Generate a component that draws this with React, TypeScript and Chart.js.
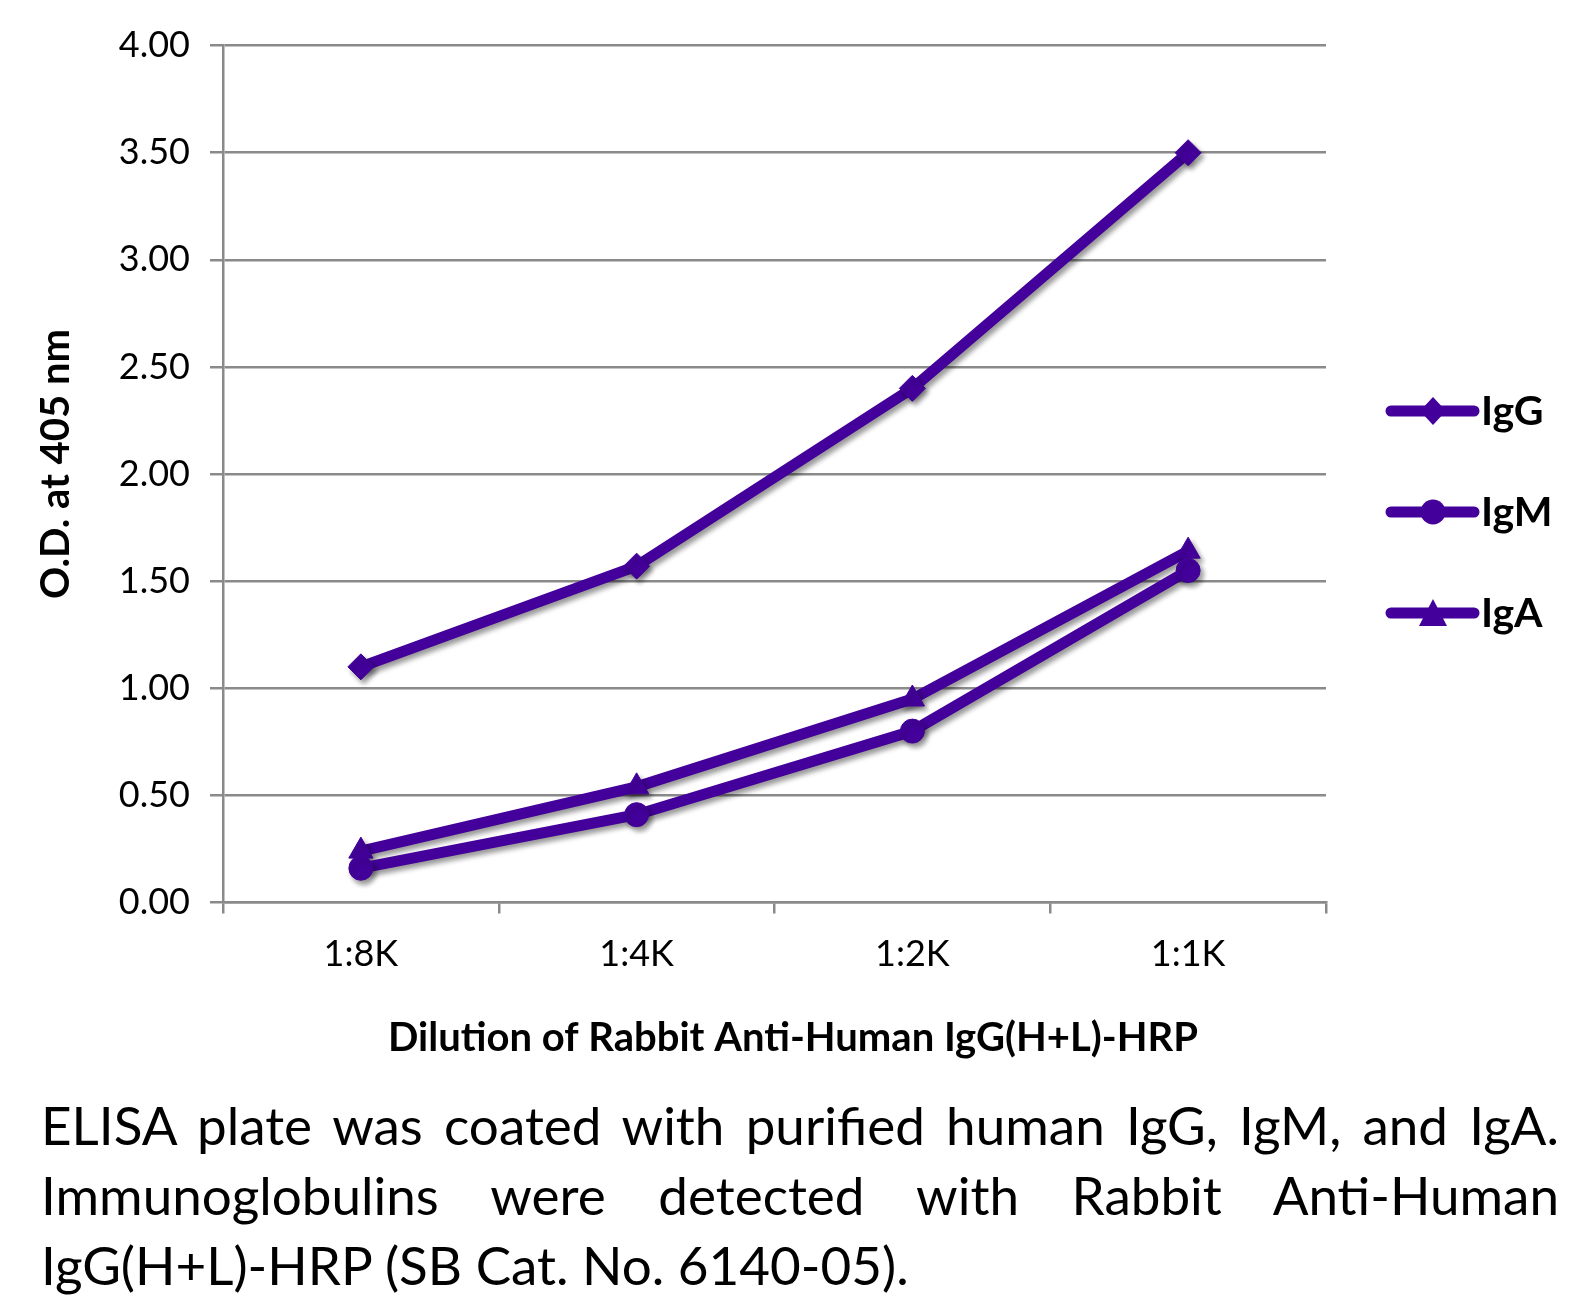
import React, { useEffect, useRef } from "react";
import { Chart, registerables } from "chart.js";

Chart.register(...registerables);

const categories = ["1:8K", "1:4K", "1:2K", "1:1K"];
const seriesNames = ["IgG", "IgM", "IgA"];
const igG = [1.1, 1.57, 2.4, 3.5];
const igM = [0.16, 0.41, 0.8, 1.55];
const igA = [0.24, 0.54, 0.95, 1.64];
const yTickMin = 0;
const yTickMax = 4;
const yTickStep = 0.5;
const yTitle = "O.D. at 405 nm";
const xTitle = "Dilution of Rabbit Anti-Human IgG(H+L)-HRP";
const captionLines = [
  "ELISA plate was coated with purified human IgG, IgM, and IgA.",
  "Immunoglobulins were detected with Rabbit Anti-Human",
  "IgG(H+L)-HRP (SB Cat. No. 6140-05).",
];

const COLOR = "#43009a";
const GRID = "#8a8a8a";
const FONT = "Lato";

const shadowPlugin = {
  id: "lineShadow",
  beforeDatasetsDraw(chart: any) {
    const ctx = chart.ctx;
    ctx.save();
    ctx.shadowColor = "rgba(0,0,0,0.4)";
    ctx.shadowBlur = 5;
    ctx.shadowOffsetX = 3;
    ctx.shadowOffsetY = 4;
  },
  afterDatasetsDraw(chart: any) {
    chart.ctx.restore();
  },
};

const titlesPlugin = {
  id: "axisTitles",
  afterDraw(chart: any) {
    const ctx = chart.ctx;
    ctx.save();
    ctx.fillStyle = "#000";
    ctx.font = `bold 40px ${FONT}`;
    ctx.textAlign = "center";
    ctx.textBaseline = "middle";
    ctx.fillText(xTitle, 793, 1038);
    ctx.translate(56, 464);
    ctx.rotate(-Math.PI / 2);
    ctx.fillText(yTitle, 0, 0);
    ctx.restore();
  },
};

const legendPlugin = {
  id: "sideLegend",
  afterDraw(chart: any) {
    const ctx = chart.ctx;
    const rows = [411, 512, 613];
    const x0 = 1391;
    const x1 = 1474;
    const mx = 1433;
    ctx.save();
    seriesNames.forEach((name, i) => {
      const y = rows[i];
      ctx.strokeStyle = COLOR;
      ctx.fillStyle = COLOR;
      ctx.lineWidth = 11;
      ctx.lineCap = "round";
      ctx.beginPath();
      ctx.moveTo(x0, y);
      ctx.lineTo(x1, y);
      ctx.stroke();
      ctx.beginPath();
      if (i === 0) {
        ctx.moveTo(mx, y - 14);
        ctx.lineTo(mx + 13, y);
        ctx.lineTo(mx, y + 14);
        ctx.lineTo(mx - 13, y);
        ctx.closePath();
      } else if (i === 1) {
        ctx.arc(mx, y, 12.5, 0, Math.PI * 2);
      } else {
        ctx.moveTo(mx, y - 14);
        ctx.lineTo(mx + 14, y + 13);
        ctx.lineTo(mx - 14, y + 13);
        ctx.closePath();
      }
      ctx.fill();
      ctx.fillStyle = "#000";
      ctx.font = `bold 41px ${FONT}`;
      ctx.textAlign = "left";
      ctx.textBaseline = "alphabetic";
      ctx.fillText(name, 1481, y + 14);
    });
    ctx.restore();
  },
};

export default function App() {
  const ref = useRef<HTMLCanvasElement | null>(null);

  useEffect(() => {
    if (!ref.current) return;
    const mk = (label: string, data: number[], style: any, radius: number) => ({
      label,
      data,
      borderColor: COLOR,
      backgroundColor: COLOR,
      borderWidth: 11,
      pointStyle: style,
      pointRadius: radius,
      pointBorderWidth: 1,
      pointBackgroundColor: COLOR,
      pointBorderColor: COLOR,
      tension: 0,
      fill: false,
    });
    const chart = new Chart(ref.current, {
      type: "line",
      data: {
        labels: categories,
        datasets: [
          mk(seriesNames[0], igG, "rectRot", 13),
          mk(seriesNames[1], igM, "circle", 12),
          mk(seriesNames[2], igA, "triangle", 14),
        ],
      },
      options: {
        responsive: false,
        animation: false,
        devicePixelRatio: 1,
        layout: { padding: { top: 45.6, right: 264, bottom: 0, left: 0 } },
        plugins: {
          legend: { display: false },
          tooltip: { enabled: false },
        },
        scales: {
          x: {
            type: "category",
            offset: true,
            grid: {
              offset: true,
              drawOnChartArea: false,
              color: GRID,
              lineWidth: 2.5,
              tickLength: 11,
            },
            border: { display: true, color: GRID, width: 2.5 },
            ticks: {
              color: "#000",
              font: { family: FONT, size: 36 },
              padding: 19,
              maxRotation: 0,
            },
            title: { display: false },
            afterFit(scale: any) {
              scale.height = 167.5;
            },
          },
          y: {
            min: yTickMin,
            max: yTickMax,
            grid: {
              color: GRID,
              lineWidth: 2.5,
              tickLength: 13,
            },
            border: { display: true, color: GRID, width: 2.5 },
            ticks: {
              stepSize: yTickStep,
              color: "#000",
              font: { family: FONT, size: 36 },
              padding: 20,
              callback: (v: any) => Number(v).toFixed(2),
            },
            title: { display: false },
            afterFit(scale: any) {
              scale.width = 223;
            },
          },
        },
      },
      plugins: [shadowPlugin, titlesPlugin, legendPlugin],
    } as any);
    return () => chart.destroy();
  }, []);

  const lineStyle = (justify: boolean): React.CSSProperties => ({
    whiteSpace: "nowrap",
    textAlign: justify ? "justify" : "left",
    textAlignLast: justify ? "justify" : "left",
    height: 70,
  });

  return (
    <div style={{ position: "absolute", left: 0, top: 0, width: 1590, height: 1306, background: "#fff" }}>
      <canvas ref={ref} width={1590} height={1070} style={{ position: "absolute", left: 0, top: 0, width: 1590, height: 1070 }} />
      <div
        style={{
          position: "absolute",
          left: 41,
          top: 1090,
          width: 1518,
          fontFamily: FONT,
          fontSize: 53,
          lineHeight: "70px",
          color: "#000",
        }}
      >
        {captionLines.map((t, i) => (
          <div key={i} style={lineStyle(i < 2)}>
            {t}
          </div>
        ))}
      </div>
    </div>
  );
}
